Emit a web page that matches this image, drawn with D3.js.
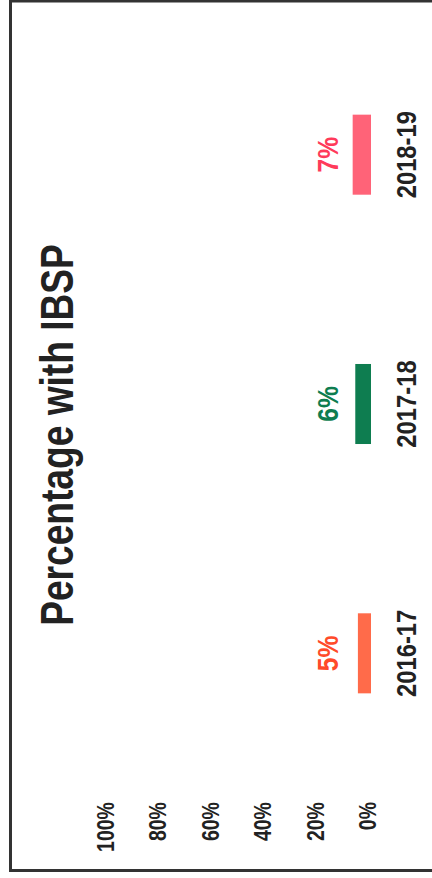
<!DOCTYPE html>
<html>
<head>
<meta charset="utf-8">
<script src="https://cdn.jsdelivr.net/npm/d3@7"></script>
<style>
  html, body { margin: 0; padding: 0; background: #fff; }
  svg { display: block; }
</style>
</head>
<body>
<svg id="chart"></svg>
<script>
// ======================
// DATA
// ======================
const years = ["2016-17", "2017-18", "2018-19"];
const ibspShare = [5, 6, 7];
const barColors = ["#ff6b4a", "#0e7d50", "#ff6378"];
const labelColors = ["#ff4a2a", "#0e7d50", "#ff3a5a"];
const tickValues = [0, 20, 40, 60, 80, 100];

// ======================
// SETUP (chart is drawn turned a quarter turn, as in the scan)
// ======================
const pageWidth = 432;
const pageHeight = 878;

const svg = d3.select("#chart")
    .attr("width", pageWidth)
    .attr("height", pageHeight);

// page frame
svg.append("rect")
    .attr("x", 10.5)
    .attr("y", 1)
    .attr("width", 440)
    .attr("height", 869.5)
    .attr("fill", "none")
    .attr("stroke", "#333")
    .attr("stroke-width", 3);

// local coords: x runs along the page bottom-to-top, y runs left-to-right
const chartG = svg.append("g")
    .attr("transform", `translate(0,${pageHeight}) rotate(-90)`);

const fontFamily = "'Liberation Sans', Arial, sans-serif";

const xScale = d3.scaleBand()
    .domain(years)
    .range([60, 888])
    .paddingInner(0.679)
    .paddingOuter(0.5);

const yScale = d3.scaleLinear()
    .domain([0, 100])
    .range([371, 109]);

// squeezed text helper (scan is narrower along the reading direction)
function addText(parent, x, y, str, size, squeeze, color, anchor) {
    const g = parent.append("g").attr("transform", `translate(${x},${y}) scale(${squeeze},1)`);
    g.append("text")
        .attr("text-anchor", anchor)
        .attr("dominant-baseline", "central")
        .attr("font-family", fontFamily)
        .attr("font-weight", "bold")
        .attr("font-size", size)
        .attr("fill", color)
        .text(str);
    return g;
}

// ======================
// TITLE
// ======================
addText(chartG, 443, 57, "Percentage with IBSP", 47, 0.79, "#222", "middle");

// ======================
// VALUE AXIS LABELS
// ======================
tickValues.forEach(t => {
    addText(chartG, 76, yScale(t) - 2.5, `${t}%`, 23, 0.85, "#222", "end");
});

// ======================
// BARS
// ======================
chartG.selectAll(".bar")
    .data(years)
    .enter()
    .append("rect")
    .attr("class", "bar")
    .attr("x", d => xScale(d))
    .attr("width", xScale.bandwidth())
    .attr("y", (d, i) => yScale(ibspShare[i]))
    .attr("height", (d, i) => yScale(0) - yScale(ibspShare[i]))
    .attr("fill", (d, i) => barColors[i]);

// value labels above bars
years.forEach((d, i) => {
    addText(chartG, xScale(d) + xScale.bandwidth() / 2, 328, `${ibspShare[i]}%`, 29, 0.85, labelColors[i], "middle");
});

// category labels
years.forEach(d => {
    addText(chartG, xScale(d) + xScale.bandwidth() / 2, 406, d, 28, 0.85, "#222", "middle");
});
</script>
</body>
</html>
